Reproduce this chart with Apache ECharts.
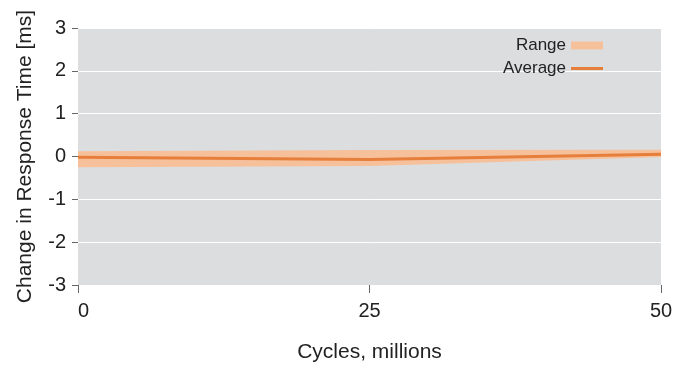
<!DOCTYPE html>
<html>
<head>
<meta charset="utf-8">
<script src="https://cdn.jsdelivr.net/npm/echarts@6/dist/echarts.min.js"></script>
<style>html,body{margin:0;padding:0;background:#fff}#c{width:688px;height:365px}</style>
</head>
<body>
<div id="c"></div>
<script>
const cycles = ['0', '25', '50'];
const average = [-0.02, -0.07, 0.05];
const rangeLow = [-0.25, -0.22, -0.01];
const rangeHigh = [0.12, 0.15, 0.16];
const yTicks = [-3, -2, -1, 0, 1, 2, 3];

const FONT = '"Liberation Sans", Arial, sans-serif';
const spanVals = rangeHigh.map((h, i) => +(h - rangeLow[i]).toFixed(4));

const chart = echarts.init(document.getElementById('c'), null, {renderer: 'canvas'});
chart.setOption({
  animation: false,
  backgroundColor: '#ffffff',
  textStyle: {fontFamily: FONT},
  grid: {left: 78, right: 27, top: 28, bottom: 80, show: true, backgroundColor: '#dcdddf', borderWidth: 0,
         containLabel: false, outerBoundsMode: 'none'},
  legend: [
    {data: [{name: 'Range', icon: 'rect', itemStyle: {color: '#f6c09a', opacity: 1}, lineStyle: {opacity: 1, color: '#f6c09a'}}],
     right: 80, top: 32, align: 'right', itemWidth: 32, itemHeight: 8,
     textStyle: {fontFamily: FONT, fontSize: 17, color: '#222'}, itemGap: 0},
    {data: [{name: 'Average', icon: 'rect'}], right: 80, top: 55, align: 'right', itemWidth: 32, itemHeight: 3,
     textStyle: {fontFamily: FONT, fontSize: 17, color: '#222'}, itemGap: 0}
  ],
  xAxis: {
    type: 'category', data: cycles, boundaryGap: false,
    name: 'Cycles, millions', nameLocation: 'middle', nameGap: 57,
    nameTextStyle: {fontFamily: FONT, fontSize: 21, color: '#222'},
    axisLine: {show: false, onZero: false},
    axisTick: {show: true, length: 8, lineStyle: {color: '#666'}},
    splitLine: {show: false},
    axisLabel: {fontFamily: FONT, fontSize: 20, color: '#222', margin: 16, alignMinLabel: 'left'}
  },
  yAxis: {
    type: 'value', min: -3, max: 3, interval: 1,
    name: 'Change in Response Time [ms]', nameLocation: 'middle', nameGap: 42,
    nameTextStyle: {fontFamily: FONT, fontSize: 21, color: '#222'},
    axisLine: {show: false},
    axisTick: {show: true, length: 6, lineStyle: {color: '#666'}},
    splitLine: {show: true, lineStyle: {color: '#ffffff', width: 1}},
    axisLabel: {fontFamily: FONT, fontSize: 20, color: '#222', margin: 12,
      formatter: v => yTicks.includes(v) ? String(v) : ''}
  },
  series: [
    {name: 'low', type: 'line', stack: 'band', stackStrategy: 'all', data: rangeLow, symbol: 'none',
     lineStyle: {opacity: 0}, areaStyle: {opacity: 0}, silent: true},
    {name: 'Range', type: 'line', stack: 'band', stackStrategy: 'all', data: spanVals, symbol: 'none',
     itemStyle: {color: '#f6c09a'}, lineStyle: {opacity: 0},
     areaStyle: {color: '#f6c09a', opacity: 1}},
    {name: 'Average', type: 'line', data: average, symbol: 'none',
     itemStyle: {color: '#e67f3c'}, lineStyle: {color: '#e67f3c', width: 3}}
  ]
});
</script>
</body>
</html>
